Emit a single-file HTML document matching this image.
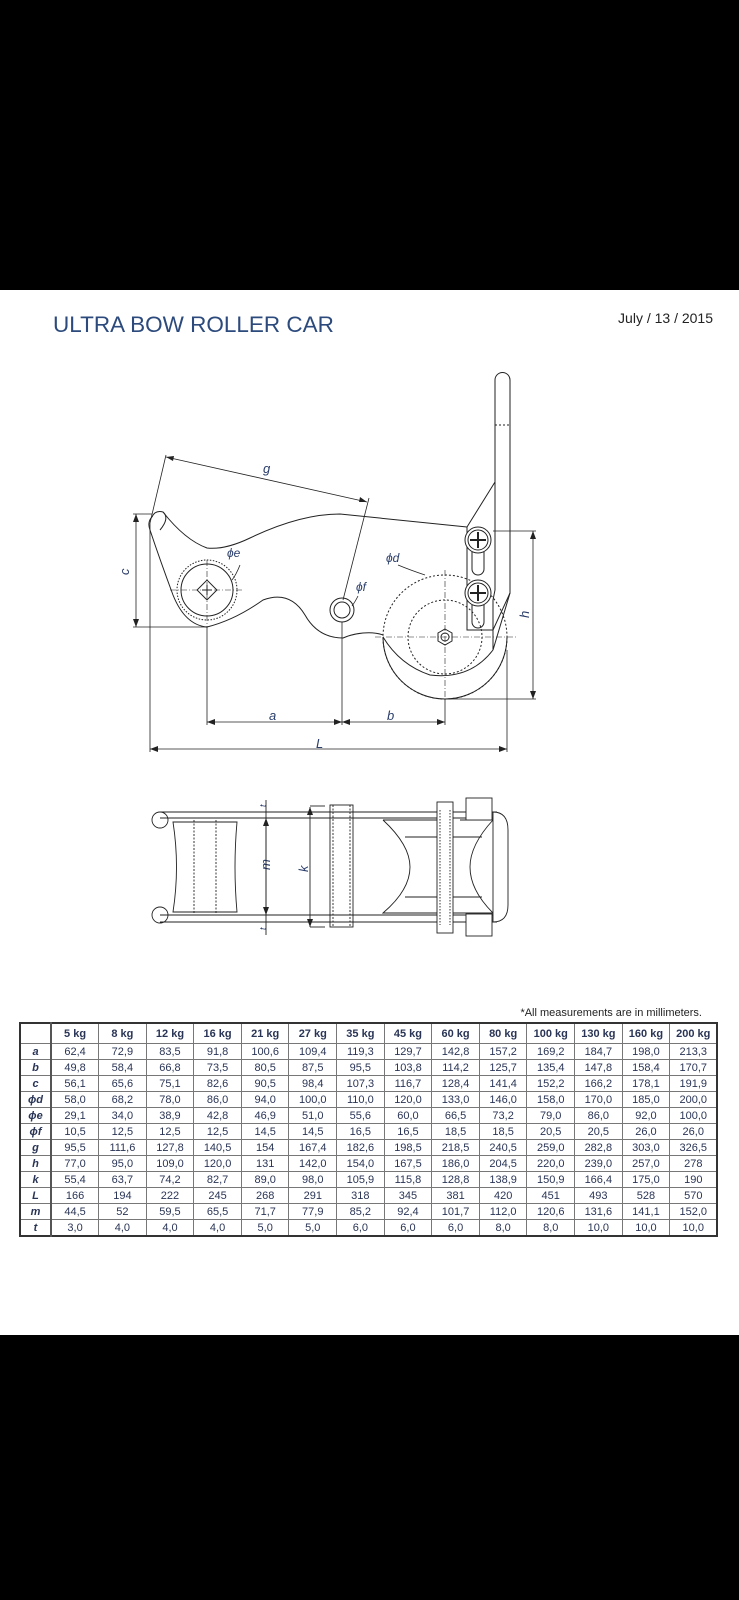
<!DOCTYPE html>
<html><head><meta charset="utf-8"><style>
html,body{margin:0;padding:0;background:#fff;}
body{width:739px;height:1600px;position:relative;overflow:hidden;font-family:"Liberation Sans",sans-serif;}
.blk{position:absolute;left:0;width:739px;background:#000;}
.title{position:absolute;left:53px;top:312px;font-size:22.5px;color:#2c4a7c;}
.date{position:absolute;right:26px;top:310px;font-size:14px;color:#222;}
.note{position:absolute;right:37px;top:1007px;font-size:11px;color:#222;}
table{position:absolute;left:19px;top:1022px;width:698px;border-collapse:collapse;border:2px solid #333;font-size:11px;color:#2a3556;table-layout:fixed;}
td{border:1px solid #777;text-align:center;padding:0;height:15px;line-height:14px;overflow:hidden;white-space:nowrap;}
tr:first-child td{height:19px;font-weight:bold;}
td:first-child{font-weight:bold;font-style:italic;border-right:2px solid #555;}
</style></head><body>
<div class="blk" style="top:0;height:290px"></div>
<div class="blk" style="top:1335px;height:265px"></div>
<div class="title">ULTRA BOW ROLLER CAR</div>
<div class="date">July / 13 / 2015</div>
<svg style="position:absolute;left:0;top:0" width="739" height="1600" viewBox="0 0 739 1600" fill="none" stroke="#222" stroke-width="1">
<path d="M495 380 A7.5 7.5 0 0 1 510 380 L510 593 L493 650 L493 600 L495 590 Z" fill="#fff"/>
<line x1="495" y1="425" x2="510" y2="425" stroke-dasharray="2 2"/>
<path d="M495 482 L467 527 L467 630 L493 630 L510 593" />
<path d="M152 517 Q155 510 163 512 Q185 540 207 548 Q225 550 250 538 Q300 514 340 514 L467 527" fill="none"/>
<path d="M152 517 Q147 522 150 530 Q160 560 173 595 Q185 625 207 627 Q235 620 263 600 Q290 590 305 615 Q318 638 343 638 Q352 634 363 633 Q375 632 383 635"/>
<path d="M163 512 Q170 518 160 530"/>
<circle cx="207" cy="590" r="30" stroke-dasharray="1.5 1.5"/>
<circle cx="207" cy="590" r="26"/>
<rect x="200" y="583" width="14" height="14" transform="rotate(45 207 590)"/>
<path d="M202 590 h10 M207 585 v10"/>
<line x1="170" y1="590" x2="244" y2="590" stroke-dasharray="6 2 1 2" stroke-width=".6"/>
<line x1="207" y1="560" x2="207" y2="628" stroke-dasharray="6 2 1 2" stroke-width=".6"/>
<circle cx="342" cy="610" r="12"/><circle cx="342" cy="610" r="8"/>
<circle cx="445" cy="637" r="62" stroke-dasharray="2 2"/>
<path d="M383 637 A62 62 0 0 0 507 637"/>
<circle cx="445" cy="637" r="37" stroke-dasharray="2 2"/>
<path d="M383 637 Q400 665 430 675 Q470 680 493 650"/>
<polygon points="445,629 452,633 452,641 445,645 438,641 438,633" fill="#fff"/>
<circle cx="445" cy="637" r="4"/>
<line x1="375" y1="637" x2="517" y2="637" stroke-dasharray="6 2 1 2" stroke-width=".6"/>
<line x1="445" y1="570" x2="445" y2="700" stroke-dasharray="6 2 1 2" stroke-width=".6"/>
<rect x="472" y="545" width="12" height="30" rx="6"/>
<rect x="472" y="598" width="12" height="30" rx="6"/>
<circle cx="478" cy="540" r="13" fill="#fff"/><circle cx="478" cy="540" r="10"/>
<path d="M470 540 h16 M478 532 v16" stroke-width="2"/>
<circle cx="478" cy="593" r="13" fill="#fff"/><circle cx="478" cy="593" r="10"/>
<path d="M470 593 h16 M478 585 v16" stroke-width="2"/>
<g stroke-width=".8">
<line x1="133" y1="514" x2="152" y2="514"/><line x1="133" y1="627" x2="207" y2="627"/>
<line x1="136" y1="514" x2="136" y2="627"/>
<line x1="493" y1="531" x2="536" y2="531"/><line x1="445" y1="699" x2="536" y2="699"/>
<line x1="533" y1="531" x2="533" y2="699"/>
<line x1="207" y1="627" x2="207" y2="725"/><line x1="342" y1="622" x2="342" y2="725"/>
<line x1="445" y1="699" x2="445" y2="725"/><line x1="150" y1="523" x2="150" y2="752"/>
<line x1="507" y1="650" x2="507" y2="752"/>
<line x1="207" y1="722" x2="342" y2="722"/><line x1="342" y1="722" x2="445" y2="722"/>
<line x1="150" y1="749" x2="507" y2="749"/>
<line x1="150" y1="523" x2="166" y2="455"/><line x1="343" y1="600" x2="369" y2="498"/>
<line x1="166" y1="457" x2="367" y2="502"/>
<path d="M240 565 Q236 575 232 580 M398 565 Q410 570 425 575 M358 596 Q355 602 352 606"/>
</g>
<g fill="#222" stroke="none">
<path d="M136 514 l-3 8 h6z M136 627 l-3 -8 h6z M533 531 l-3 8 h6z M533 699 l-3 -8 h6z"/>
<path d="M207 722 l8 -3 v6z M342 722 l-8 -3 v6z M342 722 l8 -3 v6z M445 722 l-8 -3 v6z"/>
<path d="M150 749 l8 -3 v6z M507 749 l-8 -3 v6z"/>
<path d="M166 457 l8 -1 l-1 5z M367 502 l-8 0 l1 -5z"/>
</g>
<g fill="#2a3d6b" stroke="none" font-family="Liberation Sans" font-style="italic" font-size="13">
<text x="263" y="473">g</text><text x="227" y="557" font-size="12">ϕe</text>
<text x="386" y="562" font-size="12">ϕd</text><text x="356" y="591" font-size="12">ϕf</text>
<text x="269" y="720">a</text><text x="387" y="720">b</text><text x="316" y="748">L</text>
<text x="129" y="575" transform="rotate(-90 129 575)">c</text>
<text x="529" y="618" transform="rotate(-90 529 618)">h</text>
<text x="270" y="870" transform="rotate(-90 270 870)">m</text>
<text x="308" y="872" transform="rotate(-90 308 872)">k</text>
<text x="266" y="807" font-size="9" transform="rotate(-90 266 807)">t</text>
<text x="266" y="930" font-size="9" transform="rotate(-90 266 930)">t</text>
</g>
<g stroke-width=".9">
<line x1="160" y1="812" x2="497" y2="812"/><line x1="160" y1="818" x2="497" y2="818"/>
<line x1="160" y1="915" x2="497" y2="915"/><line x1="160" y1="922" x2="497" y2="922"/>
<circle cx="160" cy="820" r="8"/><circle cx="160" cy="915" r="8"/>
<path d="M173 822 L237 822 Q233 867 237 912 L173 912 Q180 867 173 822Z"/>
<path d="M194 820 V914 M216 820 V914" stroke-dasharray="2 1.5"/>
<line x1="266" y1="818" x2="266" y2="915"/><line x1="266" y1="800" x2="266" y2="935"/>
<line x1="310" y1="807" x2="310" y2="927"/>
<line x1="310" y1="806" x2="325" y2="806"/><line x1="310" y1="927" x2="325" y2="927"/>
<rect x="330" y="805" width="23" height="122"/>
<path d="M333 805 V927 M350 805 V927" stroke-dasharray="2 1.5"/>
<path d="M383 820 L440 820 M383 820 Q410 845 410 867 Q410 890 383 913 L493 913 M460 820 L493 820 Q470 845 470 867 Q470 890 493 913"/>
<line x1="405" y1="837" x2="482" y2="837"/><line x1="405" y1="897" x2="482" y2="897"/>
<rect x="437" y="802" width="16" height="131" fill="#fff"/>
<path d="M440 810 V925 M450 810 V925" stroke-dasharray="1.5 1.5"/>
<rect x="466" y="798" width="26" height="22" fill="#fff"/>
<rect x="466" y="914" width="26" height="22" fill="#fff"/>
<path d="M493 812 Q508 812 508 830 V905 Q508 922 493 922 Z" fill="#fff"/>
</g>
<g fill="#222" stroke="none">
<path d="M266 818 l-3 8 h6z M266 915 l-3 -8 h6z M310 807 l-3 8 h6z M310 927 l-3 -8 h6z"/>
</g>
</svg>
<div class="note">*All measurements are in millimeters.</div>
<table>
<colgroup><col style="width:31px"><col span="14" style="width:47.6px"></colgroup>
<tr><td></td><td>5 kg</td><td>8 kg</td><td>12 kg</td><td>16 kg</td><td>21 kg</td><td>27 kg</td><td>35 kg</td><td>45 kg</td><td>60 kg</td><td>80 kg</td><td>100 kg</td><td>130 kg</td><td>160 kg</td><td>200 kg</td></tr>
<tr><td>a</td><td>62,4</td><td>72,9</td><td>83,5</td><td>91,8</td><td>100,6</td><td>109,4</td><td>119,3</td><td>129,7</td><td>142,8</td><td>157,2</td><td>169,2</td><td>184,7</td><td>198,0</td><td>213,3</td></tr>
<tr><td>b</td><td>49,8</td><td>58,4</td><td>66,8</td><td>73,5</td><td>80,5</td><td>87,5</td><td>95,5</td><td>103,8</td><td>114,2</td><td>125,7</td><td>135,4</td><td>147,8</td><td>158,4</td><td>170,7</td></tr>
<tr><td>c</td><td>56,1</td><td>65,6</td><td>75,1</td><td>82,6</td><td>90,5</td><td>98,4</td><td>107,3</td><td>116,7</td><td>128,4</td><td>141,4</td><td>152,2</td><td>166,2</td><td>178,1</td><td>191,9</td></tr>
<tr><td>ϕd</td><td>58,0</td><td>68,2</td><td>78,0</td><td>86,0</td><td>94,0</td><td>100,0</td><td>110,0</td><td>120,0</td><td>133,0</td><td>146,0</td><td>158,0</td><td>170,0</td><td>185,0</td><td>200,0</td></tr>
<tr><td>ϕe</td><td>29,1</td><td>34,0</td><td>38,9</td><td>42,8</td><td>46,9</td><td>51,0</td><td>55,6</td><td>60,0</td><td>66,5</td><td>73,2</td><td>79,0</td><td>86,0</td><td>92,0</td><td>100,0</td></tr>
<tr><td>ϕf</td><td>10,5</td><td>12,5</td><td>12,5</td><td>12,5</td><td>14,5</td><td>14,5</td><td>16,5</td><td>16,5</td><td>18,5</td><td>18,5</td><td>20,5</td><td>20,5</td><td>26,0</td><td>26,0</td></tr>
<tr><td>g</td><td>95,5</td><td>111,6</td><td>127,8</td><td>140,5</td><td>154</td><td>167,4</td><td>182,6</td><td>198,5</td><td>218,5</td><td>240,5</td><td>259,0</td><td>282,8</td><td>303,0</td><td>326,5</td></tr>
<tr><td>h</td><td>77,0</td><td>95,0</td><td>109,0</td><td>120,0</td><td>131</td><td>142,0</td><td>154,0</td><td>167,5</td><td>186,0</td><td>204,5</td><td>220,0</td><td>239,0</td><td>257,0</td><td>278</td></tr>
<tr><td>k</td><td>55,4</td><td>63,7</td><td>74,2</td><td>82,7</td><td>89,0</td><td>98,0</td><td>105,9</td><td>115,8</td><td>128,8</td><td>138,9</td><td>150,9</td><td>166,4</td><td>175,0</td><td>190</td></tr>
<tr><td>L</td><td>166</td><td>194</td><td>222</td><td>245</td><td>268</td><td>291</td><td>318</td><td>345</td><td>381</td><td>420</td><td>451</td><td>493</td><td>528</td><td>570</td></tr>
<tr><td>m</td><td>44,5</td><td>52</td><td>59,5</td><td>65,5</td><td>71,7</td><td>77,9</td><td>85,2</td><td>92,4</td><td>101,7</td><td>112,0</td><td>120,6</td><td>131,6</td><td>141,1</td><td>152,0</td></tr>
<tr><td>t</td><td>3,0</td><td>4,0</td><td>4,0</td><td>4,0</td><td>5,0</td><td>5,0</td><td>6,0</td><td>6,0</td><td>6,0</td><td>8,0</td><td>8,0</td><td>10,0</td><td>10,0</td><td>10,0</td></tr>
</table>
</body></html>
